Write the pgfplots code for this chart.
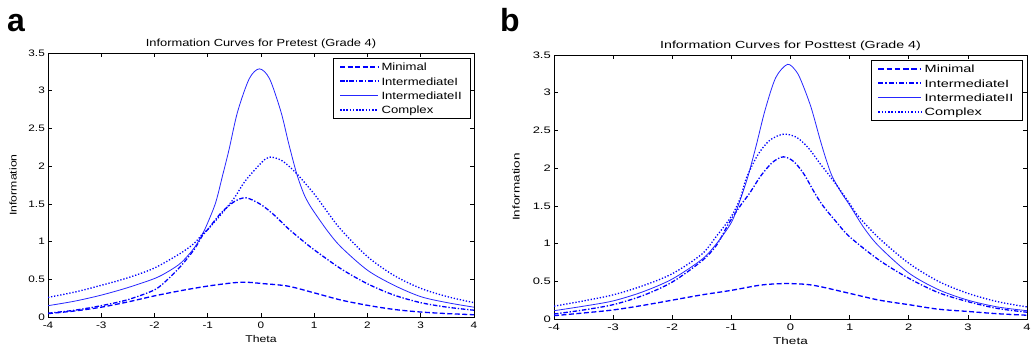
\documentclass[border=0pt]{standalone}
\usepackage{fontspec}
\setmainfont{Liberation Sans}
\newfontfamily\afont[FakeStretch=1.25]{Liberation Sans}
\newfontfamily\bfontx[FakeStretch=1.38]{Liberation Sans}
\usepackage{pgfplots}
\pgfplotsset{compat=1.18}
\pgfplotsset{
  matlab/.style={
    scale only axis,
    xmin=-4, xmax=4, ymin=0, ymax=3.5,
    xtick={-4,-3,-2,-1,0,1,2,3,4},
    ytick={0,0.5,1,1.5,2,2.5,3,3.5},
    tick align=inside, major tick length=4pt,
    axis line style={black, line width=0.7pt},
    tick style={black, line width=0.6pt},
    /pgf/number format/assume math mode=true,
    xticklabel style={inner sep=0pt, yshift=-4.5pt},
    yticklabel style={inner sep=0pt, xshift=-3pt},
    title style={at={(0.5,1)}, anchor=south, inner sep=0pt, yshift=-1.5pt},
    every axis x label/.style={at={(axis description cs:0.5,-0.0682)}, anchor=north, inner sep=0pt},
    legend cell align=left,
  },
}
\begin{document}
\begin{tikzpicture}
\useasboundingbox (0,0) rectangle (1033pt,346pt);
% ---------------- panel a ----------------
\begin{axis}[matlab,
  at={(48pt,29pt)}, anchor=south west,
  width=426pt, height=264pt,
  title={\afont\fontsize{10.3}{12}\selectfont Information Curves for Pretest (Grade 4)},
  xlabel={Theta}, ylabel={Information},
  every axis y label/.style={at={(axis description cs:-0.0728,0.5)}, rotate=90, anchor=south, inner sep=0pt},
  label style={font=\afont\fontsize{9.8}{11}\selectfont},
  tick label style={font=\afont\fontsize{9.4}{10}\selectfont},
  legend style={at={(1,1)}, anchor=north east, xshift=-4pt, yshift=-5pt,
    inner xsep=5.5pt, inner ysep=1.3pt, row sep=0pt,
    font=\afont\fontsize{10.5}{12}\selectfont,
    nodes={inner xsep=2.5pt, inner ysep=1.4pt, text height=9.8pt, text depth=1.7pt}},
]
\addplot[blue, line width=1.3pt, dash pattern=on 5pt off 2.5pt, smooth,
  legend image code/.code={\draw[blue, line width=2pt, dash pattern=on 5pt off 2.5pt] (0pt,0pt) -- (38pt,0pt);}]
  coordinates {(-4,0.045) (-3.5,0.08) (-3,0.13) (-2.5,0.2) (-2,0.28) (-1.5,0.35) (-1,0.41) (-0.5,0.455) (-0.25,0.46) (0,0.445) (0.5,0.41) (1,0.32) (1.5,0.225) (2,0.155) (2.5,0.1) (3,0.066) (3.5,0.045) (4,0.03)};
\addplot[blue, line width=1.3pt, dash pattern=on 4.5pt off 1.8pt on 1.3pt off 1.8pt, smooth,
  legend image code/.code={\draw[blue, line width=2pt, dash pattern=on 4.5pt off 1.8pt on 1.3pt off 1.8pt] (0pt,0pt) -- (38pt,0pt);}]
  coordinates {(-4,0.05) (-3.5,0.09) (-3,0.15) (-2.5,0.23) (-2,0.36) (-1.75,0.5) (-1.5,0.68) (-1.25,0.9) (-1.1,1.08) (-1,1.16) (-0.75,1.38) (-0.5,1.53) (-0.28,1.58) (0,1.49) (0.25,1.35) (0.5,1.18) (0.75,1.03) (1,0.89) (1.5,0.64) (2,0.44) (2.5,0.29) (3,0.19) (3.5,0.13) (4,0.09)};
\addplot[blue!85!white, line width=0.8pt, smooth,
  legend image code/.code={\draw[blue!85!white, line width=1.2pt] (0pt,0pt) -- (38pt,0pt);}]
  coordinates {(-4,0.15) (-3.5,0.21) (-3,0.29) (-2.5,0.39) (-2,0.51) (-1.75,0.6) (-1.5,0.72) (-1.25,0.92) (-1.1,1.1) (-1,1.25) (-0.85,1.52) (-0.72,1.88) (-0.6,2.22) (-0.44,2.72) (-0.22,3.16) (-0.03,3.29) (0.16,3.16) (0.375,2.72) (0.52,2.3) (0.67,1.9) (0.8,1.64) (0.9,1.5) (1,1.39) (1.25,1.14) (1.5,0.93) (2,0.62) (2.5,0.42) (3,0.27) (3.5,0.19) (4,0.13)};
\addplot[blue, line width=1.3pt, dash pattern=on 1.3pt off 1.8pt, smooth,
  legend image code/.code={\draw[blue, line width=2pt, dash pattern=on 1.5pt off 1.7pt] (0pt,0pt) -- (38pt,0pt);}]
  coordinates {(-4,0.26) (-3.5,0.33) (-3,0.42) (-2.5,0.52) (-2,0.65) (-1.5,0.85) (-1.25,0.98) (-1.1,1.1) (-1,1.16) (-0.75,1.36) (-0.5,1.58) (-0.3,1.8) (0,2.04) (0.16,2.12) (0.4,2.07) (0.67,1.9) (1,1.63) (1.25,1.39) (1.5,1.16) (2,0.8) (2.5,0.55) (3,0.38) (3.5,0.27) (4,0.19)};
\legend{Minimal, IntermediateI, IntermediateII, Complex}
\end{axis}
% ---------------- panel b ----------------
\begin{axis}[matlab,
  at={(554pt,27pt)}, anchor=south west,
  width=473pt, height=264pt,
  title={\bfontx\fontsize{10.3}{12}\selectfont Information Curves for Posttest (Grade 4)},
  xlabel={Theta}, ylabel={Information},
  every axis y label/.style={at={(axis description cs:-0.0719,0.5)}, rotate=90, anchor=south, inner sep=0pt},
  label style={font=\bfontx\fontsize{9.8}{11}\selectfont},
  tick label style={font=\bfontx\fontsize{9.4}{10}\selectfont},
  legend style={at={(1,1)}, anchor=north east, xshift=-5pt, yshift=-5pt,
    inner xsep=6pt, inner ysep=1.3pt, row sep=0pt,
    font=\bfontx\fontsize{10.5}{12}\selectfont,
    nodes={inner xsep=2.5pt, inner ysep=1.4pt, text height=9.8pt, text depth=1.7pt}},
]
\addplot[blue, line width=1.3pt, dash pattern=on 5pt off 2.5pt, smooth,
  legend image code/.code={\draw[blue, line width=2pt, dash pattern=on 5.5pt off 2.8pt] (0pt,0pt) -- (43pt,0pt);}]
  coordinates {(-4,0.044) (-3.5,0.08) (-3,0.12) (-2.5,0.18) (-2,0.25) (-1.5,0.32) (-1,0.38) (-0.5,0.45) (-0.1,0.47) (0.25,0.46) (0.5,0.43) (1,0.34) (1.5,0.25) (2,0.19) (2.5,0.13) (3,0.1) (3.5,0.07) (4,0.05)};
\addplot[blue, line width=1.3pt, dash pattern=on 4.5pt off 1.8pt on 1.3pt off 1.8pt, smooth,
  legend image code/.code={\draw[blue, line width=2pt, dash pattern=on 5pt off 2pt on 1.4pt off 2pt] (0pt,0pt) -- (43pt,0pt);}]
  coordinates {(-4,0.066) (-3.5,0.12) (-3,0.19) (-2.5,0.31) (-2,0.49) (-1.5,0.77) (-1.25,0.98) (-1.05,1.26) (-0.85,1.5) (-0.69,1.67) (-0.5,1.9) (-0.3,2.08) (-0.12,2.15) (0.05,2.09) (0.22,1.93) (0.41,1.67) (0.55,1.5) (0.75,1.31) (1,1.09) (1.5,0.78) (2,0.54) (2.5,0.35) (3,0.23) (3.5,0.14) (4,0.09)};
\addplot[blue!85!white, line width=0.8pt, smooth,
  legend image code/.code={\draw[blue!85!white, line width=1.2pt] (0pt,0pt) -- (43pt,0pt);}]
  coordinates {(-4,0.11) (-3.5,0.17) (-3,0.24) (-2.5,0.36) (-2,0.53) (-1.5,0.79) (-1.25,1.0) (-1,1.28) (-0.85,1.58) (-0.72,1.89) (-0.58,2.3) (-0.43,2.77) (-0.25,3.2) (-0.05,3.376) (0.1,3.28) (0.2,3.12) (0.35,2.8) (0.5,2.38) (0.6,2.12) (0.7,1.9) (0.84,1.7) (1,1.51) (1.25,1.2) (1.5,0.96) (2,0.61) (2.5,0.39) (3,0.25) (3.5,0.16) (4,0.11)};
\addplot[blue, line width=1.3pt, dash pattern=on 1.3pt off 1.8pt, smooth,
  legend image code/.code={\draw[blue, line width=2pt, dash pattern=on 1.5pt off 1.8pt] (0pt,0pt) -- (43pt,0pt);}]
  coordinates {(-4,0.17) (-3.5,0.24) (-3,0.32) (-2.5,0.44) (-2,0.6) (-1.5,0.86) (-1.25,1.1) (-1,1.36) (-0.85,1.6) (-0.74,1.88) (-0.55,2.18) (-0.35,2.37) (-0.12,2.45) (0.1,2.41) (0.3,2.27) (0.5,2.06) (0.67,1.89) (0.84,1.71) (1,1.53) (1.15,1.36) (1.5,1.07) (2,0.74) (2.5,0.5) (3,0.34) (3.5,0.23) (4,0.16)};
\legend{Minimal, IntermediateI, IntermediateII, Complex}
\end{axis}
\node[anchor=base west, inner sep=0pt, font=\fontsize{32}{36}\selectfont\bfseries] at (7pt,314pt) {a};
\node[anchor=base west, inner sep=0pt, font=\fontsize{32}{36}\selectfont\bfseries] at (500pt,314pt) {b};
\end{tikzpicture}
\end{document}
